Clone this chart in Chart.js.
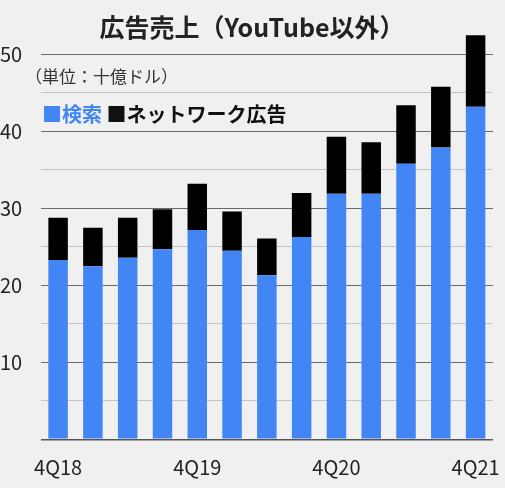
<!DOCTYPE html>
<html>
<head>
<meta charset="utf-8">
<script src="https://cdn.jsdelivr.net/npm/chart.js@4"></script>
<style>
  html, body { margin: 0; padding: 0; background: #f0f0f0; }
  #wrap { width: 505px; height: 488px; position: relative; }
</style>
</head>
<body>
<div id="wrap"><canvas id="myChart" width="505" height="488"></canvas></div>
<script>
// quarterly ad revenue excluding YouTube, billion USD
var quarters = ["4Q18", "1Q19", "2Q19", "3Q19", "4Q19", "1Q20", "2Q20", "3Q20", "4Q20", "1Q21", "2Q21", "3Q21", "4Q21"];
var search = [23.3, 22.5, 23.6, 24.7, 27.2, 24.5, 21.3, 26.3, 31.9, 31.9, 35.8, 37.9, 43.2];
var network = [5.5, 5.0, 5.2, 5.2, 6.0, 5.1, 4.8, 5.7, 7.4, 6.7, 7.6, 7.9, 9.3];
var yTicks = [10, 20, 30, 40, 50];

var FONT = "'Noto Sans CJK JP', 'Noto Sans', sans-serif";
var BLUE = "#4285f4";

var headerText = {
  id: "headerText",
  afterDraw: function (chart) {
    var ctx = chart.ctx;
    ctx.save();
    ctx.textBaseline = "middle";
    // title
    ctx.font = "bold 25px " + FONT;
    ctx.fillStyle = "#222";
    ctx.textAlign = "center";
    ctx.fillText("広告売上（YouTube以外）", 252, 27);
    // unit
    ctx.font = "17px " + FONT;
    ctx.textAlign = "left";
    ctx.fillStyle = "#333";
    ctx.fillText("（単位：十億ドル）", 25, 77);
    // legend
    ctx.font = "bold 20px " + FONT;
    var x = 42;
    ctx.fillStyle = BLUE;
    ctx.fillText("■検索", x, 114);
    x += ctx.measureText("■検索 ").width;
    ctx.fillStyle = "#111";
    ctx.fillText("■ネットワーク広告", x, 114);
    ctx.restore();
  }
};

var ctx = document.getElementById("myChart").getContext("2d");
var chart = new Chart(ctx, {
  type: "bar",
  data: {
    labels: quarters,
    datasets: [
      {
        label: "検索",
        data: search,
        backgroundColor: BLUE,
        categoryPercentage: 0.8,
        barPercentage: 0.7
      },
      {
        label: "ネットワーク広告",
        data: network,
        backgroundColor: "#000000",
        categoryPercentage: 0.8,
        barPercentage: 0.7
      }
    ]
  },
  options: {
    responsive: false,
    animation: false,
    layout: { padding: { top: 16, right: 12, left: 0, bottom: 0 } },
    plugins: {
      legend: { display: false },
      tooltip: { enabled: false }
    },
    scales: {
      x: {
        stacked: true,
        grid: { display: false, drawTicks: false },
        border: { display: false },
        ticks: {
          autoSkip: false,
          maxRotation: 0,
          padding: 16,
          color: "#222",
          font: { family: FONT, size: 20 },
          callback: function (v, i) {
            var q = quarters[i];
            return q.indexOf("4Q") === 0 ? q : "";
          }
        },
        afterFit: function (scale) {
          scale.height = 48.7;
          scale.paddingLeft = 0;
          scale.paddingRight = 0;
        }
      },
      y: {
        stacked: true,
        min: 0,
        max: 55,
        border: { display: false },
        grid: {
          drawTicks: false,
          lineWidth: function (c) { return c.tick && c.tick.value === 0 ? 1.5 : 1; },
          color: function (c) {
            var v = c.tick ? c.tick.value : 0;
            if (v === 55) return "rgba(0,0,0,0)";
            if (v === 0) return "#555";
            if (yTicks.indexOf(v) >= 0) return "#6a6a6a";
            return "#c4c4c4";
          }
        },
        ticks: {
          stepSize: 5,
          crossAlign: "far",
          padding: 0,
          color: "#222",
          font: { family: FONT, size: 20 },
          callback: function (v) {
            return yTicks.indexOf(v) >= 0 ? String(v) : "";
          }
        },
        afterFit: function (scale) {
          scale.width = 40.7;
          scale.paddingTop = 0;
          scale.paddingBottom = 0;
        }
      }
    }
  },
  plugins: [headerText]
});
</script>
</body>
</html>
